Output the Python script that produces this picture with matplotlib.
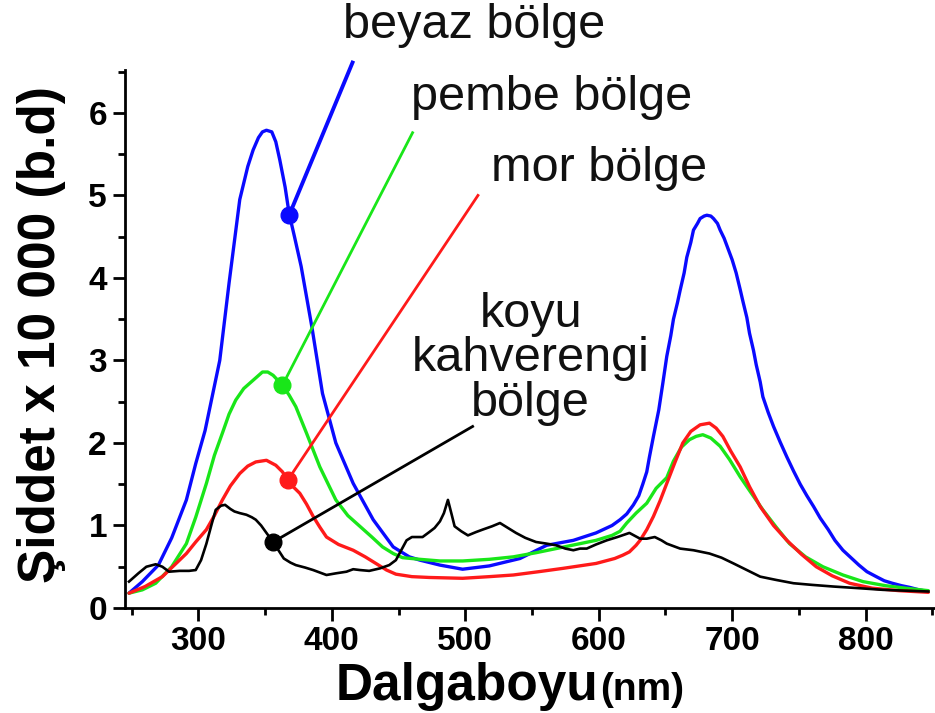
import matplotlib
matplotlib.use('Agg')
import matplotlib.pyplot as plt
import numpy as np

plt.rcParams['font.family'] = ['Liberation Sans', 'DejaVu Sans']

# beyaz bolge (blue)
wl_beyaz = [248, 258, 270, 280, 291, 298, 305, 316, 323, 331, 337, 341, 345, 348, 351, 355, 358, 361,
            365, 368, 372, 377, 385, 393, 403, 416, 431, 446, 458, 466, 481, 498, 518, 541, 561, 581,
            598, 610, 616, 621, 626, 630, 633, 636, 638, 641, 645, 648, 651, 654, 656, 659, 661, 664,
            666, 669, 671, 674, 676, 679, 681, 684, 686, 689, 691, 694, 697, 700, 703, 706, 708, 711,
            713, 716, 718, 721, 723, 727, 731, 736, 741, 746, 751, 756, 761, 766, 772, 777, 783, 789,
            795, 801, 808, 814, 820, 827, 833, 840, 847]
beyaz = [0.18, 0.32, 0.52, 0.85, 1.31, 1.75, 2.15, 3.0, 3.94, 4.95, 5.35, 5.55, 5.70, 5.77, 5.79, 5.77,
         5.65, 5.43, 5.10, 4.78, 4.50, 4.14, 3.41, 2.60, 2.0, 1.51, 1.07, 0.74, 0.62, 0.58, 0.52, 0.47,
         0.51, 0.60, 0.76, 0.82, 0.91, 1.0, 1.07, 1.14, 1.25, 1.36, 1.50, 1.65, 1.83, 2.08, 2.40, 2.72,
         3.05, 3.30, 3.50, 3.70, 3.85, 4.06, 4.25, 4.43, 4.58, 4.66, 4.72, 4.75, 4.76, 4.75, 4.72, 4.66,
         4.58, 4.48, 4.35, 4.22, 4.06, 3.86, 3.72, 3.52, 3.33, 3.12, 2.95, 2.74, 2.56, 2.37, 2.20, 2.01,
         1.83, 1.66, 1.50, 1.36, 1.23, 1.09, 0.95, 0.82, 0.70, 0.61, 0.52, 0.44, 0.38, 0.33, 0.30, 0.27,
         0.25, 0.22, 0.20]

# pembe bolge (green)
wl_pembe = [248, 258, 268, 280, 291, 298, 306, 312, 318, 323, 328, 334, 341, 348, 352, 356, 363, 368,
            373, 381, 391, 403, 412, 421, 430, 438, 446, 453, 466, 481, 498, 518, 536, 553, 568, 583,
            598, 610, 616, 621, 628, 636, 643, 651, 656, 662, 668, 673, 678, 684, 691, 698, 706, 714,
            723, 733, 743, 755, 768, 783, 798, 815, 830, 847]
pembe = [0.18, 0.22, 0.30, 0.50, 0.78, 1.10, 1.51, 1.85, 2.12, 2.35, 2.52, 2.66, 2.76, 2.86, 2.86, 2.82,
         2.70, 2.58, 2.44, 2.12, 1.71, 1.31, 1.12, 0.99, 0.86, 0.74, 0.66, 0.61, 0.59, 0.57, 0.57, 0.59,
         0.62, 0.67, 0.72, 0.77, 0.82, 0.88, 0.93, 1.03, 1.15, 1.27, 1.45, 1.58, 1.78, 1.95, 2.04, 2.08,
         2.10, 2.06, 1.96, 1.80, 1.59, 1.40, 1.19, 0.98, 0.78, 0.62, 0.50, 0.40, 0.32, 0.27, 0.24, 0.21]

# mor bolge (red)
wl_mor = [248, 260, 273, 282, 291, 298, 306, 312, 318, 324, 331, 337, 343, 351, 358, 363, 367, 371, 376,
          381, 386, 391, 396, 405, 416, 425, 433, 441, 448, 460, 473, 498, 518, 536, 555, 573, 598, 612,
          618, 623, 628, 631, 636, 641, 646, 651, 657, 663, 669, 676, 683, 688, 693, 699, 706, 713, 721,
          731, 741, 752, 763, 775, 788, 805, 825, 847]
mor = [0.18, 0.26, 0.38, 0.52, 0.66, 0.80, 0.95, 1.12, 1.31, 1.48, 1.63, 1.72, 1.77, 1.79, 1.73, 1.65,
       1.55, 1.47, 1.39, 1.26, 1.11, 0.98, 0.86, 0.77, 0.70, 0.62, 0.54, 0.46, 0.41, 0.38, 0.37, 0.36,
       0.38, 0.40, 0.44, 0.48, 0.54, 0.60, 0.64, 0.68, 0.76, 0.82, 0.95, 1.11, 1.30, 1.51, 1.76, 2.0,
       2.14, 2.22, 2.24, 2.18, 2.08, 1.90, 1.71, 1.47, 1.23, 1.00, 0.82, 0.65, 0.50, 0.39, 0.30, 0.24,
       0.21, 0.19]

# koyu kahverengi bolge (black)
wl_koyu = [248, 255, 261, 268, 273, 278, 286, 293, 298, 302, 306, 310, 313, 317, 320, 324, 327, 331, 336,
           340, 343, 347, 351, 356, 360, 364, 369, 373, 380, 386, 391, 396, 403, 411, 416, 421, 428, 436,
           443, 448, 452, 456, 460, 468, 473, 477, 481, 484, 487, 490, 492, 497, 502, 508, 513, 520, 526,
           532, 538, 545, 553, 561, 568, 575, 581, 586, 591, 598, 606, 614, 623, 631, 636, 642, 647, 651,
           661, 671, 683, 692, 701, 711, 721, 733, 746, 760, 776, 795, 813, 830, 847]
koyu = [0.32, 0.42, 0.50, 0.53, 0.50, 0.44, 0.45, 0.45, 0.46, 0.58, 0.78, 1.02, 1.19, 1.24, 1.25, 1.20,
        1.17, 1.15, 1.13, 1.10, 1.07, 1.00, 0.91, 0.80, 0.70, 0.60, 0.55, 0.52, 0.49, 0.46, 0.43, 0.40,
        0.42, 0.44, 0.47, 0.46, 0.45, 0.48, 0.52, 0.58, 0.70, 0.82, 0.86, 0.86, 0.92, 0.97, 1.05, 1.15,
        1.31, 1.12, 0.99, 0.93, 0.88, 0.92, 0.95, 0.99, 1.03, 0.97, 0.91, 0.85, 0.80, 0.78, 0.76, 0.72,
        0.70, 0.72, 0.72, 0.77, 0.82, 0.86, 0.91, 0.84, 0.84, 0.86, 0.82, 0.78, 0.72, 0.70, 0.66, 0.61,
        0.54, 0.46, 0.38, 0.34, 0.30, 0.28, 0.26, 0.24, 0.22, 0.21, 0.20]

# label texts, dot positions on the curves and the far end of each pointer line
labels = ['beyaz bölge', 'pembe bölge', 'mor bölge', 'koyu\nkahverengi\nbölge']
colors = ['#0a0aff', '#19e619', '#ff1a1a', 'black']
dot_x = [368, 363, 367, 356]
dot_y = [4.76, 2.70, 1.55, 0.80]
end_x = [415.5, 460.5, 509.5, 505.5]
end_y = [6.61, 5.76, 5.0, 2.2]
label_x = [408, 459.6, 519.6, 549]
label_y = [6.91, 6.04, 5.17, 3.02]

fig = plt.figure(figsize=(9.35, 7.13), dpi=100)
ax = fig.add_axes([125 / 935, 105 / 713, 810 / 935, 538 / 713])

line_style = {'linewidth': 2.4, 'solid_joinstyle': 'round', 'solid_capstyle': 'round'}
ax.plot(wl_beyaz, beyaz, color=colors[0], **line_style)
ax.plot(wl_pembe, pembe, color=colors[1], **line_style)
ax.plot(wl_mor, mor, color=colors[2], **line_style)
ax.plot(wl_koyu, koyu, color=colors[3], linewidth=1.9, solid_joinstyle='round')

# pointer lines with dots
for i in range(4):
    lw = 2.8 if i == 0 else 2.0
    ax.plot([dot_x[i], end_x[i]], [dot_y[i], end_y[i]], color=colors[i], linewidth=lw, clip_on=False)
    ax.plot(dot_x[i], dot_y[i], 'o', color=colors[i], markersize=12, clip_on=False)

for i in range(3):
    ax.text(label_x[i], label_y[i], labels[i], fontsize=35, ha='left', va='baseline',
            color='#111111', clip_on=False)
ax.text(label_x[3], label_y[3], labels[3], fontsize=35, ha='center', va='center',
        multialignment='center', linespacing=0.98, color='#111111')

ax.set_xlim(245, 852)
ax.set_ylim(0, 6.52)
ax.set_xticks(np.arange(300, 801, 100))
ax.set_xticks(np.arange(250, 851, 50), minor=True)
ax.set_yticks(np.arange(0, 7, 1))
ax.set_yticks(np.arange(0, 6.6, 0.5), minor=True)

for side in ['top', 'right']:
    ax.spines[side].set_visible(False)
for side in ['left', 'bottom']:
    ax.spines[side].set_linewidth(2)

ax.tick_params(which='major', direction='out', length=9, width=2, labelsize=24, pad=4)
ax.tick_params(which='minor', direction='out', length=5, width=2)
for lab in ax.get_xticklabels() + ax.get_yticklabels():
    lab.set_fontweight('bold')

ax.set_ylabel('Şiddet x 10 000 (b.d)', fontsize=37, fontweight='bold', va='center')
ax.yaxis.set_label_coords(-0.103, 0.509)

# x label in two sizes, "(nm)" placed right after "Dalgaboyu"
xlab = fig.text(336 / 935, 13 / 713, 'Dalgaboyu', fontsize=37, fontweight='bold', ha='left', va='baseline')
fig.canvas.draw()
bb = xlab.get_window_extent()
fig.text(bb.x1 / 935 + 0.002, 13 / 713, '(nm)', fontsize=28, fontweight='bold', ha='left', va='baseline')

fig.savefig('out.png', dpi=100)
